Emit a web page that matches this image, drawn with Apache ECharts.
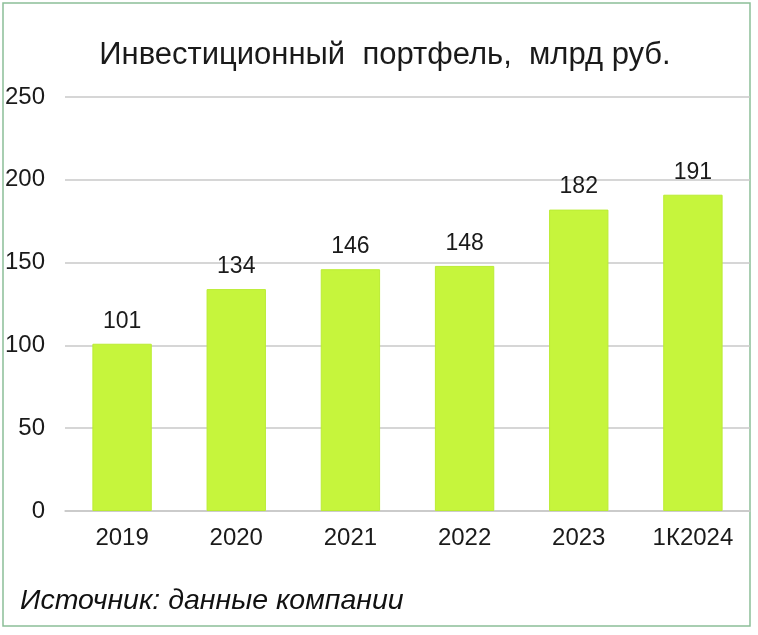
<!DOCTYPE html>
<html>
<head>
<meta charset="utf-8">
<script src="https://cdn.jsdelivr.net/npm/echarts@6/dist/echarts.min.js"></script>
<style>
html,body{margin:0;padding:0;background:#fff;}
#c{width:758px;height:635px;}
</style>
</head>
<body>
<div id="c"></div>
<script>
const titleText = 'Инвестиционный  портфель,  млрд руб.';
const sourceText = 'Источник: данные компании';
const categories = ['2019', '2020', '2021', '2022', '2023', '1К2024'];
const values = [101, 134, 146, 148, 182, 191];
const yTicks = { min: 0, max: 250, interval: 50 };

const FONT = '"Liberation Sans", Arial, sans-serif';
const chart = echarts.init(document.getElementById('c'), null, { renderer: 'canvas' });
chart.setOption({
  backgroundColor: '#ffffff',
  animation: false,
  title: {
    text: titleText,
    left: 380,
    top: 35,
    textAlign: 'center',
    textStyle: { fontFamily: FONT, fontSize: 31, fontWeight: 'normal', color: '#1a1a1a' }
  },
  grid: { left: 65, right: 8, top: 97, bottom: 124, containLabel: false },
  xAxis: {
    type: 'category',
    data: categories,
    axisLine: { lineStyle: { color: '#c8c8c8', width: 1.5 } },
    axisTick: { show: false },
    axisLabel: { fontFamily: FONT, fontSize: 24, color: '#1a1a1a', margin: 15 }
  },
  yAxis: {
    type: 'value',
    min: yTicks.min,
    max: yTicks.max,
    interval: yTicks.interval,
    axisLine: { show: false },
    axisTick: { show: false },
    splitLine: { lineStyle: { color: '#c8c8c8', width: 1.5 } },
    axisLabel: { fontFamily: FONT, fontSize: 24, color: '#1a1a1a', margin: 20 }
  },
  series: [{
    type: 'bar',
    data: values,
    barWidth: '52%',
    itemStyle: { color: '#c6f53c', borderColor: '#bbec34', borderWidth: 1 },
    label: {
      show: true,
      position: 'top',
      distance: 11,
      fontFamily: FONT,
      fontSize: 23,
      color: '#1a1a1a'
    }
  }],
  graphic: [
    {
      type: 'rect',
      shape: { x: 3, y: 3, width: 747, height: 623 },
      style: { fill: null, stroke: '#8cbf98', lineWidth: 1.5 },
      silent: true
    },
    {
      type: 'text',
      left: 20,
      top: 587,
      style: {
        text: sourceText,
        font: 'italic 28.5px "Liberation Sans", Arial, sans-serif',
        fill: '#111111'
      }
    }
  ]
});
</script>
</body>
</html>
